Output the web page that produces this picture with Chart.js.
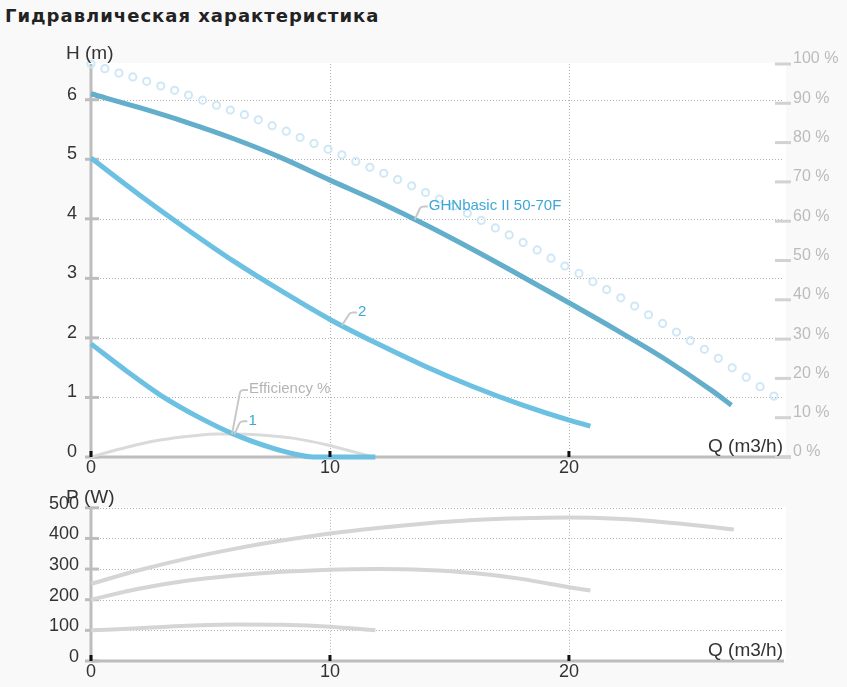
<!DOCTYPE html>
<html>
<head>
<meta charset="utf-8">
<script src="https://cdn.jsdelivr.net/npm/chart.js@4.4.1/dist/chart.umd.min.js"></script>
<style>
  html, body { margin: 0; padding: 0; background: #f9f9f9; }
  body { width: 847px; height: 687px; position: relative; overflow: hidden; font-family: "Liberation Sans", Arial, sans-serif; }
  h1 { position: absolute; left: 5px; top: 5px; margin: 0; font-family: "DejaVu Sans", sans-serif; font-size: 18px; font-weight: bold; letter-spacing: 1px; color: #222; }
  #hChart { position: absolute; left: 0; top: 30px; width: 847px; height: 455px; }
  #pChart { position: absolute; left: 0; top: 485px; width: 847px; height: 202px; }
</style>
</head>
<body>
<h1>Гидравлическая характеристика</h1>
<canvas id="hChart" width="847" height="455"></canvas>
<canvas id="pChart" width="847" height="202"></canvas>
<script>
// Q-H: max curve, speed 2, speed 1
const qMax = [0, 2, 4, 6, 8, 10, 12, 14, 16, 18, 20, 22, 24, 26, 26.8];
const hMax = [6.10, 5.87, 5.62, 5.34, 5.02, 4.65, 4.29, 3.90, 3.48, 3.04, 2.59, 2.13, 1.65, 1.11, 0.87];
const qSpeed2 = [0, 2, 4, 6, 8, 10, 12, 14, 16, 18, 20, 20.9];
const hSpeed2 = [5.02, 4.41, 3.83, 3.28, 2.78, 2.31, 1.90, 1.52, 1.18, 0.88, 0.62, 0.52];
const qSpeed1 = [0, 1.5, 2.9, 4.5, 6, 7.5, 8.5, 9.3, 11.9];
const hSpeed1 = [1.90, 1.44, 1.04, 0.67, 0.38, 0.16, 0.05, 0, 0];

// efficiency (%)
const qEff = [0, 1.5, 2.9, 4.3, 5.3, 6.5, 7.1, 8.45, 9.9, 11, 11.8];
const effPct = [0, 2.5, 4.3, 5.4, 5.85, 5.8, 5.6, 4.8, 3.05, 1.3, 0];
const qDots = [0, 0.58, 1.17, 1.75, 2.33, 2.92, 3.5, 4.08, 4.67, 5.25, 5.83, 6.42, 7, 7.58, 8.17, 8.75, 9.33, 9.92, 10.5, 11.08,
  11.67, 12.25, 12.83, 13.42, 14, 14.58, 15.17, 15.75, 16.33, 16.92, 17.5, 18.08, 18.67, 19.25, 19.83, 20.42, 21, 21.58, 22.17,
  22.75, 23.33, 23.92, 24.5, 25.08, 25.67, 26.25, 26.83, 27.42, 28, 28.58];
const effDots = [100, 98.8, 97.7, 96.7, 95.6, 94.4, 93.3, 92.1, 90.8, 89.5, 88.3, 87.1, 85.8, 84.3, 82.9, 81.3, 79.8, 78.3, 76.9, 75.2,
  73.7, 72.2, 70.6, 69, 67.3, 65.6, 63.8, 62, 60.2, 58.3, 56.5, 54.6, 52.7, 50.6, 48.6, 46.7, 44.6, 42.6, 40.5,
  38.4, 36.2, 34, 31.8, 29.6, 27.4, 25.1, 22.7, 20.3, 17.9, 15.5];

// Q-P (W)
const qPMax = [0, 2, 4, 6, 8, 10, 12, 14, 16, 18, 20, 22, 24, 26, 26.9];
const pMax = [252, 296, 334, 366, 393, 416, 434, 449, 460, 466, 468, 464, 453, 437, 429];
const qP2 = [0, 2, 4, 6, 8, 10, 12, 14, 16, 18, 20, 20.9];
const pSpeed2 = [200, 236, 262, 279, 291, 298, 300, 297, 287, 268, 241, 230];
const qP1 = [0, 2, 4, 6, 8, 10, 11.9];
const pSpeed1 = [100, 107, 115, 119, 118, 112, 100];

const qMaxAxis = 29, hMaxAxis = 6.6, pMaxAxis = 500;

const curveLabels = [
  { text: 'GHNbasic II 50-70F', ds: 0, q: 13.55, dx: 5, dy: -13, color: '#3ea6d6' },
  { text: '2', ds: 1, q: 10.5, dx: 7, dy: -13, color: '#3ea6d6' },
  { text: '1', ds: 2, q: 6.0, dx: 5, dy: -13, color: '#3ea6d6' },
  { text: 'Efficiency %', ds: 3, q: 5.9, dx: 8, dy: -44, color: '#b4b4b4' }
];

const FONT = '"Liberation Sans", Arial, sans-serif';
const pts = (xs, ys) => xs.map((x, i) => ({ x, y: ys[i] }));

function line(ctx, x1, y1, x2, y2) {
  ctx.beginPath(); ctx.moveTo(x1, y1); ctx.lineTo(x2, y2); ctx.stroke();
}

function valueAt(data, q) {
  for (let i = 1; i < data.length; i++) {
    if (q <= data[i].x) {
      const a = data[i - 1], b = data[i];
      return a.y + (b.y - a.y) * (q - a.x) / (b.x - a.x);
    }
  }
  return data[data.length - 1].y;
}

// white plot area, dotted grid, gray axes, tick marks, titles, curve labels
const frame = {
  id: 'frame',
  beforeDraw(chart) {
    const { ctx, chartArea: a } = chart;
    ctx.save();
    ctx.fillStyle = '#fff';
    ctx.fillRect(a.left, a.top - 1, a.right - a.left + 2, a.bottom - a.top + 1);
    ctx.restore();
  },
  beforeDatasetsDraw(chart, args, opts) {
    const { ctx, chartArea: a, scales } = chart;
    const x = scales.x, y = scales.y;
    ctx.save();
    ctx.strokeStyle = '#b2b2b2'; ctx.lineWidth = 1; ctx.setLineDash([1, 2]);
    x.ticks.forEach(t => {
      if (t.value === 0) return;
      const px = Math.round(x.getPixelForValue(t.value)) + 0.5;
      line(ctx, px, a.top, px, a.bottom);
    });
    y.ticks.forEach(t => {
      if (t.value === 0) return;
      const py = Math.round(y.getPixelForValue(t.value)) + 0.5;
      line(ctx, a.left, py, a.right - 2, py);
    });
    ctx.setLineDash([]);
    ctx.strokeStyle = '#bdbdbd'; ctx.lineWidth = 3;
    line(ctx, a.left, a.top, a.left, a.bottom);
    line(ctx, a.left, a.bottom, a.right + (opts.axisExtra || 0), a.bottom);
    y.ticks.forEach(t => {
      const py = y.getPixelForValue(t.value);
      line(ctx, a.left - 6, py, a.left + 8, py);
    });
    if (scales.y1) {
      ctx.strokeStyle = '#d2d2d2';
      scales.y1.ticks.forEach(t => {
        const py = scales.y1.getPixelForValue(t.value);
        line(ctx, a.right - 9, py, a.right + 7, py);
      });
    }
    ctx.restore();
  },
  afterDatasetsDraw(chart, args, opts) {
    const { ctx, chartArea: a, scales } = chart;
    ctx.save();
    ctx.strokeStyle = '#111'; ctx.lineWidth = 3;
    scales.x.ticks.forEach(t => {
      const px = scales.x.getPixelForValue(t.value);
      line(ctx, px, a.bottom - 6, px, a.bottom);
    });
    ctx.fillStyle = '#333';
    ctx.font = '19px ' + FONT;
    ctx.textBaseline = 'middle';
    ctx.textAlign = 'left';
    ctx.fillText(opts.yTitle, a.left - 25, a.top - 10);
    ctx.textAlign = 'right';
    ctx.fillText(opts.xTitle, a.right - 1, a.bottom - 10);
    (opts.labels || []).forEach(l => {
      const ds = chart.data.datasets[l.ds];
      const ys = scales[ds.yAxisID];
      const ax = scales.x.getPixelForValue(l.q);
      const ay = ys.getPixelForValue(valueAt(ds.data, l.q));
      ctx.strokeStyle = '#c8c8c8'; ctx.lineWidth = 2;
      ctx.beginPath();
      ctx.moveTo(ax, ay);
      ctx.lineTo(ax + l.dx, ay + l.dy + 2);
      ctx.quadraticCurveTo(ax + l.dx + 1, ay + l.dy, ax + l.dx + 4, ay + l.dy);
      ctx.lineTo(ax + l.dx + 8, ay + l.dy);
      ctx.stroke();
      ctx.fillStyle = l.color;
      ctx.font = '15px ' + FONT;
      ctx.textAlign = 'left';
      ctx.fillText(l.text, ax + l.dx + 9, ay + l.dy - 1);
    });
    ctx.restore();
  }
};

function keepTicks(step) {
  return scale => { scale.ticks = scale.ticks.filter(t => Math.abs(t.value / step - Math.round(t.value / step)) < 1e-6); };
}

function xAxis(height) {
  return {
    type: 'linear', min: 0, max: qMaxAxis,
    grid: { display: false, drawTicks: false }, border: { display: false },
    ticks: { stepSize: 10, padding: 0, color: '#333', font: { size: 18, family: FONT } },
    afterBuildTicks: keepTicks(10),
    afterFit: s => { s.height = height; }
  };
}

const lineDs = (data, color, width, axis) => ({
  data, borderColor: color, borderWidth: width, pointRadius: 0, fill: false,
  cubicInterpolationMode: 'monotone', yAxisID: axis, clip: 10
});

new Chart(document.getElementById('hChart'), {
  type: 'line',
  data: {
    datasets: [
      lineDs(pts(qMax, hMax), '#63aecb', 5, 'y'),
      lineDs(pts(qSpeed2, hSpeed2), '#6cc0e2', 5, 'y'),
      lineDs(pts(qSpeed1, hSpeed1), '#6cc0e2', 5, 'y'),
      lineDs(pts(qEff, effPct), '#dadada', 3, 'y1'),
      { data: pts(qDots, effDots), showLine: false, pointRadius: 3.6, pointBorderWidth: 2,
        pointBorderColor: '#cfe8f6', pointBackgroundColor: 'rgba(255,255,255,0)', yAxisID: 'y1', clip: 10 }
    ]
  },
  options: {
    responsive: false, animation: false, devicePixelRatio: 1,
    layout: { padding: { top: 34, left: 0, right: 0, bottom: 0 } },
    plugins: {
      legend: { display: false }, tooltip: { enabled: false },
      frame: { yTitle: 'H (m)', xTitle: 'Q (m3/h)', labels: curveLabels, axisExtra: 7 }
    },
    scales: {
      x: xAxis(28),
      y: {
        type: 'linear', position: 'left', min: 0, max: hMaxAxis,
        grid: { display: false, drawTicks: false }, border: { display: false },
        ticks: { stepSize: 1, padding: 14, labelOffset: -5, color: '#333', font: { size: 18, family: FONT } },
        afterBuildTicks: keepTicks(1),
        afterFit: s => { s.width = 91; }
      },
      y1: {
        type: 'linear', position: 'right', min: 0, max: 100,
        grid: { display: false, drawTicks: false }, border: { display: false },
        ticks: { stepSize: 10, padding: 9, labelOffset: -5, color: '#bbb', font: { size: 16, family: FONT },
          callback: v => v + ' %' },
        afterBuildTicks: keepTicks(10),
        afterFit: s => { s.width = 63; }
      }
    }
  },
  plugins: [frame]
});

new Chart(document.getElementById('pChart'), {
  type: 'line',
  data: {
    datasets: [
      lineDs(pts(qPMax, pMax), '#d5d5d5', 4, 'y'),
      lineDs(pts(qP2, pSpeed2), '#d5d5d5', 4, 'y'),
      lineDs(pts(qP1, pSpeed1), '#d5d5d5', 4, 'y')
    ]
  },
  options: {
    responsive: false, animation: false, devicePixelRatio: 1,
    layout: { padding: { top: 22, left: 0, right: 63, bottom: 0 } },
    plugins: {
      legend: { display: false }, tooltip: { enabled: false },
      frame: { yTitle: 'P (W)', xTitle: 'Q (m3/h)', axisExtra: 0 }
    },
    scales: {
      x: xAxis(26),
      y: {
        type: 'linear', position: 'left', min: 0, max: pMaxAxis,
        grid: { display: false, drawTicks: false }, border: { display: false },
        ticks: { stepSize: 100, padding: 12, labelOffset: -4, color: '#333', font: { size: 18, family: FONT } },
        afterBuildTicks: keepTicks(100),
        afterFit: s => { s.width = 91; }
      }
    }
  },
  plugins: [frame]
});
</script>
</body>
</html>
